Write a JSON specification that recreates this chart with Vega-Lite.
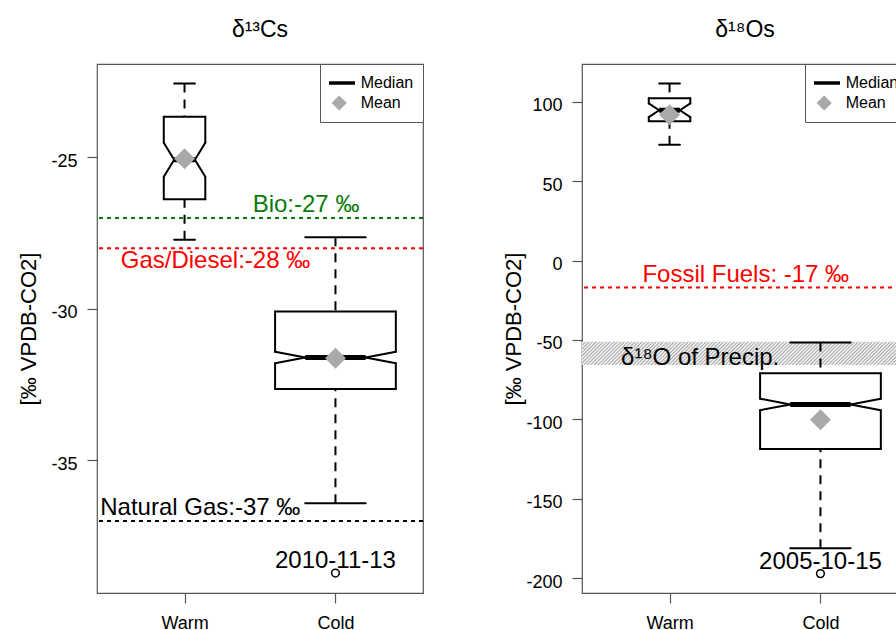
{
  "$schema": "https://vega.github.io/schema/vega-lite/v6.json",
  "background": "white",
  "padding": {"left": 16, "top": 17, "right": 0, "bottom": 0},
  "spacing": 159,
  "bounds": "flush",
  "config": {
    "font": "Liberation Sans",
    "view": {"stroke": "#555555", "strokeWidth": 1.2},
    "axis": {"grid": false, "domain": false, "ticks": true, "tickColor": "#555555", "tickSize": 10, "tickWidth": 1.2, "labelFont": "Liberation Sans", "labelFontSize": 18, "labelColor": "#000000", "titleFont": "Liberation Sans", "titleFontSize": 22, "titleFontWeight": "normal", "titleColor": "#000000"},
    "axisX": {"labelPadding": 25, "labelBaseline": "alphabetic", "labelAngle": 0},
    "axisY": {"labelPadding": 10, "labelBaseline": "alphabetic", "labelOffset": 9, "titleAngle": 270, "titleBaseline": "middle", "titleAlign": "center"},
    "title": {"font": "Liberation Sans", "fontSize": 23, "fontWeight": "normal", "color": "#000000"},
    "legend": {"orient": "top-right", "offset": 0, "padding": 9, "strokeColor": "#555555", "fillColor": "#ffffff", "labelFont": "Liberation Sans", "labelFontSize": 16, "labelColor": "#000000", "clipHeight": 20, "rowPadding": 0, "symbolOffset": -7.3, "labelOffset": 4, "symbolStrokeWidth": 3.3, "symbolOpacity": 1}
  },
  "datasets": {
    "boxes": [
      {"panel": "C13", "group": "Warm", "n": 52, "lo": -27.72, "q1": -26.38, "nlo": -25.64, "med": -25.08, "nhi": -24.52, "q3": -23.66, "hi": -22.56, "mean": -25.05},
      {"panel": "C13", "group": "Cold", "n": 440, "lo": -36.42, "q1": -32.65, "nlo": -31.8, "med": -31.61, "nhi": -31.42, "q3": -30.09, "hi": -27.64, "mean": -31.63},
      {"panel": "O18", "group": "Warm", "n": 52, "lo": 72.8, "q1": 87.6, "nlo": 90.3, "med": 94.6, "nhi": 98.9, "q3": 102.1, "hi": 111.5, "mean": 91.7},
      {"panel": "O18", "group": "Cold", "n": 440, "lo": -181.2, "q1": -118.7, "nlo": -94.2, "med": -90.6, "nhi": -87.0, "q3": -70.9, "hi": -51.6, "mean": -100.3}
    ],
    "outliers": [
      {"panel": "C13", "group": "Cold", "value": -38.72, "date": "2010-11-13"},
      {"panel": "O18", "group": "Cold", "value": -197.1, "date": "2005-10-15"}
    ],
    "refs": [
      {"panel": "C13", "source": "Bio", "value": -27, "label": "Bio:-27 ‰", "labelAt": 1.805, "side": "above"},
      {"panel": "C13", "source": "Gas/Diesel", "value": -28, "label": "Gas/Diesel:-28 ‰", "labelAt": 1.205, "side": "below"},
      {"panel": "C13", "source": "Natural Gas", "value": -37, "label": "Natural Gas:-37 ‰", "labelAt": 1.104, "side": "above"},
      {"panel": "O18", "source": "Fossil Fuels", "value": -17, "label": "Fossil Fuels: -17 ‰", "labelAt": 1.505, "side": "above"}
    ],
    "bands": [
      {"panel": "O18", "hi": -51.2, "lo": -65.8, "label": "δ¹⁸O of Precip.", "labelAt": 1.203}
    ],
    "legendItems": [{"stat": "Median"}, {"stat": "Mean"}]
  },
  "resolve": {
    "scale": {"x": "independent", "y": "independent", "color": "independent", "fill": "independent", "stroke": "independent", "shape": "independent", "size": "independent"}
  },
  "hconcat": [
    {
      "width": 326,
      "height": 529,
      "title": {"text": "δ¹³Cs", "frame": "group", "anchor": "middle", "baseline": "alphabetic", "offset": 4},
      "layer": [
        {
          "data": {"name": "boxes"},
          "transform": [
            {"filter": "datum.panel == 'C13'"},
            {"calculate": "indexof(['Warm', 'Cold'], datum.group) + 1", "as": "pos"},
            {"joinaggregate": [{"op": "max", "field": "n", "as": "nmax"}]},
            {"calculate": "0.4 * sqrt(datum.n / datum.nmax)", "as": "hw"},
            {"calculate": "datum.pos - datum.hw", "as": "xl"},
            {"calculate": "datum.pos + datum.hw", "as": "xr"},
            {"calculate": "datum.pos - datum.hw / 2", "as": "xm1"},
            {"calculate": "datum.pos + datum.hw / 2", "as": "xm2"}
          ],
          "layer": [
            {"mark": {"type": "rule", "color": "#000000", "strokeWidth": 2, "strokeDash": [9, 7]},
             "encoding": {
               "x": {"field": "pos", "type": "quantitative", "scale": {"domain": [0.42, 2.58], "nice": false, "zero": false}, "axis": {"values": [1, 2], "labelExpr": "datum.value == 1 ? 'Warm' : 'Cold'", "title": null}},
               "y": {"field": "hi", "type": "quantitative", "scale": {"domain": [-39.38, -21.92], "nice": false, "zero": false}, "axis": {"values": [-35, -30, -25], "labelExpr": "replace(datum.label, '−', '-')", "title": "[‰ VPDB-CO2]", "titleX": -69, "titleY": 264.5}},
               "y2": {"field": "q3"}}},
            {"mark": {"type": "rule", "color": "#000000", "strokeWidth": 2, "strokeDash": [9, 7]},
             "encoding": {"x": {"field": "pos", "type": "quantitative"}, "y": {"field": "lo", "type": "quantitative"}, "y2": {"field": "q1"}}},
            {"mark": {"type": "rule", "color": "#000000", "strokeWidth": 2, "strokeCap": "round"},
             "encoding": {"x": {"field": "xm1", "type": "quantitative"}, "x2": {"field": "xm2"}, "y": {"field": "hi", "type": "quantitative"}}},
            {"mark": {"type": "rule", "color": "#000000", "strokeWidth": 2, "strokeCap": "round"},
             "encoding": {"x": {"field": "xm1", "type": "quantitative"}, "x2": {"field": "xm2"}, "y": {"field": "lo", "type": "quantitative"}}},
            {"mark": {"type": "rule", "color": "#000000", "strokeWidth": 2, "strokeCap": "round"},
             "encoding": {"x": {"field": "xl", "type": "quantitative"}, "x2": {"field": "xr"}, "y": {"field": "q3", "type": "quantitative"}}},
            {"mark": {"type": "rule", "color": "#000000", "strokeWidth": 2, "strokeCap": "round"},
             "encoding": {"x": {"field": "xl", "type": "quantitative"}, "x2": {"field": "xr"}, "y": {"field": "q1", "type": "quantitative"}}},
            {"mark": {"type": "rule", "color": "#000000", "strokeWidth": 2, "strokeCap": "round"},
             "encoding": {"x": {"field": "xl", "type": "quantitative"}, "y": {"field": "q3", "type": "quantitative"}, "y2": {"field": "nhi"}}},
            {"mark": {"type": "rule", "color": "#000000", "strokeWidth": 2, "strokeCap": "round"},
             "encoding": {"x": {"field": "xl", "type": "quantitative"}, "y": {"field": "q1", "type": "quantitative"}, "y2": {"field": "nlo"}}},
            {"mark": {"type": "rule", "color": "#000000", "strokeWidth": 2, "strokeCap": "round"},
             "encoding": {"x": {"field": "xr", "type": "quantitative"}, "y": {"field": "q3", "type": "quantitative"}, "y2": {"field": "nhi"}}},
            {"mark": {"type": "rule", "color": "#000000", "strokeWidth": 2, "strokeCap": "round"},
             "encoding": {"x": {"field": "xr", "type": "quantitative"}, "y": {"field": "q1", "type": "quantitative"}, "y2": {"field": "nlo"}}},
            {"mark": {"type": "rule", "color": "#000000", "strokeWidth": 2, "strokeCap": "round"},
             "encoding": {"x": {"field": "xl", "type": "quantitative"}, "x2": {"field": "xm1"}, "y": {"field": "nhi", "type": "quantitative"}, "y2": {"field": "med"}}},
            {"mark": {"type": "rule", "color": "#000000", "strokeWidth": 2, "strokeCap": "round"},
             "encoding": {"x": {"field": "xl", "type": "quantitative"}, "x2": {"field": "xm1"}, "y": {"field": "nlo", "type": "quantitative"}, "y2": {"field": "med"}}},
            {"mark": {"type": "rule", "color": "#000000", "strokeWidth": 2, "strokeCap": "round"},
             "encoding": {"x": {"field": "xr", "type": "quantitative"}, "x2": {"field": "xm2"}, "y": {"field": "nhi", "type": "quantitative"}, "y2": {"field": "med"}}},
            {"mark": {"type": "rule", "color": "#000000", "strokeWidth": 2, "strokeCap": "round"},
             "encoding": {"x": {"field": "xr", "type": "quantitative"}, "x2": {"field": "xm2"}, "y": {"field": "nlo", "type": "quantitative"}, "y2": {"field": "med"}}},
            {"mark": {"type": "rule", "color": "#000000", "strokeWidth": 5},
             "encoding": {"x": {"field": "xm1", "type": "quantitative"}, "x2": {"field": "xm2"}, "y": {"field": "med", "type": "quantitative"}}},
            {"mark": {"type": "point", "shape": "diamond", "filled": true, "fill": "#a9a9a9", "strokeWidth": 0, "size": 440, "opacity": 1},
             "encoding": {"x": {"field": "pos", "type": "quantitative"}, "y": {"field": "mean", "type": "quantitative"}}}
          ]
        },
        {
          "data": {"name": "outliers"},
          "transform": [
            {"filter": "datum.panel == 'C13'"},
            {"calculate": "indexof(['Warm', 'Cold'], datum.group) + 1", "as": "pos"}
          ],
          "layer": [
            {"mark": {"type": "point", "shape": "circle", "filled": false, "stroke": "#000000", "strokeWidth": 1.5, "size": 60, "opacity": 1},
             "encoding": {"x": {"field": "pos", "type": "quantitative"}, "y": {"field": "value", "type": "quantitative"}}},
            {"mark": {"type": "text", "fontSize": 24, "baseline": "alphabetic", "align": "center", "dy": -5, "color": "#000000"},
             "encoding": {"x": {"field": "pos", "type": "quantitative"}, "y": {"field": "value", "type": "quantitative"}, "text": {"field": "date"}}}
          ]
        },
        {
          "data": {"name": "refs"},
          "transform": [{"filter": "datum.panel == 'C13'"}],
          "layer": [
            {"mark": {"type": "rule", "strokeWidth": 2, "strokeDash": [4, 4]},
             "encoding": {"y": {"field": "value", "type": "quantitative"},
               "color": {"field": "source", "type": "nominal", "scale": {"domain": ["Bio", "Gas/Diesel", "Natural Gas", "Fossil Fuels"], "range": ["#0a7a0a", "#ff0000", "#000000", "#ff0000"]}, "legend": null}}},
            {"transform": [{"filter": "datum.side == 'above'"}],
             "mark": {"type": "text", "fontSize": 24, "baseline": "alphabetic", "align": "center", "dy": -5.5},
             "encoding": {"x": {"field": "labelAt", "type": "quantitative"}, "y": {"field": "value", "type": "quantitative"}, "text": {"field": "label"},
               "color": {"field": "source", "type": "nominal", "legend": null}}},
            {"transform": [{"filter": "datum.side == 'below'"}],
             "mark": {"type": "text", "fontSize": 24, "baseline": "alphabetic", "align": "center", "dy": 20},
             "encoding": {"x": {"field": "labelAt", "type": "quantitative"}, "y": {"field": "value", "type": "quantitative"}, "text": {"field": "label"},
               "color": {"field": "source", "type": "nominal", "legend": null}}}
          ]
        },
        {
          "data": {"name": "legendItems"},
          "transform": [{"filter": "false"}],
          "mark": {"type": "point", "filled": true},
          "encoding": {
            "shape": {"field": "stat", "type": "nominal", "scale": {"domain": ["Median", "Mean"], "range": ["stroke", "diamond"]}, "legend": {"title": null}},
            "fill": {"field": "stat", "type": "nominal", "scale": {"domain": ["Median", "Mean"], "range": ["#000000", "#a9a9a9"]}, "legend": {"title": null}},
            "stroke": {"field": "stat", "type": "nominal", "scale": {"domain": ["Median", "Mean"], "range": ["#000000", "#a9a9a9"]}, "legend": {"title": null}},
            "size": {"field": "stat", "type": "nominal", "scale": {"domain": ["Median", "Mean"], "range": [1000, 110]}, "legend": {"title": null}}
          }
        }
      ]
    },
    {
      "width": 326,
      "height": 529,
      "title": {"text": "δ¹⁸Os", "frame": "group", "anchor": "middle", "baseline": "alphabetic", "offset": 4},
      "layer": [
        {
          "data": {"name": "bands"},
          "transform": [{"filter": "datum.panel == 'O18'"}],
          "mark": {"type": "rect", "fill": {"gradient": "linear", "x1": 0, "y1": 0, "x2": 1.08, "y2": 0.077, "stops": [
            {"offset": 0, "color": "#aaa"}, {"offset": 0.005, "color": "#fff"}, {"offset": 0.01, "color": "#aaa"}, {"offset": 0.015, "color": "#fff"}, {"offset": 0.02, "color": "#aaa"}, {"offset": 0.025, "color": "#fff"}, {"offset": 0.03, "color": "#aaa"}, {"offset": 0.035, "color": "#fff"}, {"offset": 0.04, "color": "#aaa"}, {"offset": 0.045, "color": "#fff"},
            {"offset": 0.05, "color": "#aaa"}, {"offset": 0.055, "color": "#fff"}, {"offset": 0.06, "color": "#aaa"}, {"offset": 0.065, "color": "#fff"}, {"offset": 0.07, "color": "#aaa"}, {"offset": 0.075, "color": "#fff"}, {"offset": 0.08, "color": "#aaa"}, {"offset": 0.085, "color": "#fff"}, {"offset": 0.09, "color": "#aaa"}, {"offset": 0.095, "color": "#fff"},
            {"offset": 0.1, "color": "#aaa"}, {"offset": 0.105, "color": "#fff"}, {"offset": 0.11, "color": "#aaa"}, {"offset": 0.115, "color": "#fff"}, {"offset": 0.12, "color": "#aaa"}, {"offset": 0.125, "color": "#fff"}, {"offset": 0.13, "color": "#aaa"}, {"offset": 0.135, "color": "#fff"}, {"offset": 0.14, "color": "#aaa"}, {"offset": 0.145, "color": "#fff"},
            {"offset": 0.15, "color": "#aaa"}, {"offset": 0.155, "color": "#fff"}, {"offset": 0.16, "color": "#aaa"}, {"offset": 0.165, "color": "#fff"}, {"offset": 0.17, "color": "#aaa"}, {"offset": 0.175, "color": "#fff"}, {"offset": 0.18, "color": "#aaa"}, {"offset": 0.185, "color": "#fff"}, {"offset": 0.19, "color": "#aaa"}, {"offset": 0.195, "color": "#fff"},
            {"offset": 0.2, "color": "#aaa"}, {"offset": 0.205, "color": "#fff"}, {"offset": 0.21, "color": "#aaa"}, {"offset": 0.215, "color": "#fff"}, {"offset": 0.22, "color": "#aaa"}, {"offset": 0.225, "color": "#fff"}, {"offset": 0.23, "color": "#aaa"}, {"offset": 0.235, "color": "#fff"}, {"offset": 0.24, "color": "#aaa"}, {"offset": 0.245, "color": "#fff"},
            {"offset": 0.25, "color": "#aaa"}, {"offset": 0.255, "color": "#fff"}, {"offset": 0.26, "color": "#aaa"}, {"offset": 0.265, "color": "#fff"}, {"offset": 0.27, "color": "#aaa"}, {"offset": 0.275, "color": "#fff"}, {"offset": 0.28, "color": "#aaa"}, {"offset": 0.285, "color": "#fff"}, {"offset": 0.29, "color": "#aaa"}, {"offset": 0.295, "color": "#fff"},
            {"offset": 0.3, "color": "#aaa"}, {"offset": 0.305, "color": "#fff"}, {"offset": 0.31, "color": "#aaa"}, {"offset": 0.315, "color": "#fff"}, {"offset": 0.32, "color": "#aaa"}, {"offset": 0.325, "color": "#fff"}, {"offset": 0.33, "color": "#aaa"}, {"offset": 0.335, "color": "#fff"}, {"offset": 0.34, "color": "#aaa"}, {"offset": 0.345, "color": "#fff"},
            {"offset": 0.35, "color": "#aaa"}, {"offset": 0.355, "color": "#fff"}, {"offset": 0.36, "color": "#aaa"}, {"offset": 0.365, "color": "#fff"}, {"offset": 0.37, "color": "#aaa"}, {"offset": 0.375, "color": "#fff"}, {"offset": 0.38, "color": "#aaa"}, {"offset": 0.385, "color": "#fff"}, {"offset": 0.39, "color": "#aaa"}, {"offset": 0.395, "color": "#fff"},
            {"offset": 0.4, "color": "#aaa"}, {"offset": 0.405, "color": "#fff"}, {"offset": 0.41, "color": "#aaa"}, {"offset": 0.415, "color": "#fff"}, {"offset": 0.42, "color": "#aaa"}, {"offset": 0.425, "color": "#fff"}, {"offset": 0.43, "color": "#aaa"}, {"offset": 0.435, "color": "#fff"}, {"offset": 0.44, "color": "#aaa"}, {"offset": 0.445, "color": "#fff"},
            {"offset": 0.45, "color": "#aaa"}, {"offset": 0.455, "color": "#fff"}, {"offset": 0.46, "color": "#aaa"}, {"offset": 0.465, "color": "#fff"}, {"offset": 0.47, "color": "#aaa"}, {"offset": 0.475, "color": "#fff"}, {"offset": 0.48, "color": "#aaa"}, {"offset": 0.485, "color": "#fff"}, {"offset": 0.49, "color": "#aaa"}, {"offset": 0.495, "color": "#fff"},
            {"offset": 0.5, "color": "#aaa"}, {"offset": 0.505, "color": "#fff"}, {"offset": 0.51, "color": "#aaa"}, {"offset": 0.515, "color": "#fff"}, {"offset": 0.52, "color": "#aaa"}, {"offset": 0.525, "color": "#fff"}, {"offset": 0.53, "color": "#aaa"}, {"offset": 0.535, "color": "#fff"}, {"offset": 0.54, "color": "#aaa"}, {"offset": 0.545, "color": "#fff"},
            {"offset": 0.55, "color": "#aaa"}, {"offset": 0.555, "color": "#fff"}, {"offset": 0.56, "color": "#aaa"}, {"offset": 0.565, "color": "#fff"}, {"offset": 0.57, "color": "#aaa"}, {"offset": 0.575, "color": "#fff"}, {"offset": 0.58, "color": "#aaa"}, {"offset": 0.585, "color": "#fff"}, {"offset": 0.59, "color": "#aaa"}, {"offset": 0.595, "color": "#fff"},
            {"offset": 0.6, "color": "#aaa"}, {"offset": 0.605, "color": "#fff"}, {"offset": 0.61, "color": "#aaa"}, {"offset": 0.615, "color": "#fff"}, {"offset": 0.62, "color": "#aaa"}, {"offset": 0.625, "color": "#fff"}, {"offset": 0.63, "color": "#aaa"}, {"offset": 0.635, "color": "#fff"}, {"offset": 0.64, "color": "#aaa"}, {"offset": 0.645, "color": "#fff"},
            {"offset": 0.65, "color": "#aaa"}, {"offset": 0.655, "color": "#fff"}, {"offset": 0.66, "color": "#aaa"}, {"offset": 0.665, "color": "#fff"}, {"offset": 0.67, "color": "#aaa"}, {"offset": 0.675, "color": "#fff"}, {"offset": 0.68, "color": "#aaa"}, {"offset": 0.685, "color": "#fff"}, {"offset": 0.69, "color": "#aaa"}, {"offset": 0.695, "color": "#fff"},
            {"offset": 0.7, "color": "#aaa"}, {"offset": 0.705, "color": "#fff"}, {"offset": 0.71, "color": "#aaa"}, {"offset": 0.715, "color": "#fff"}, {"offset": 0.72, "color": "#aaa"}, {"offset": 0.725, "color": "#fff"}, {"offset": 0.73, "color": "#aaa"}, {"offset": 0.735, "color": "#fff"}, {"offset": 0.74, "color": "#aaa"}, {"offset": 0.745, "color": "#fff"},
            {"offset": 0.75, "color": "#aaa"}, {"offset": 0.755, "color": "#fff"}, {"offset": 0.76, "color": "#aaa"}, {"offset": 0.765, "color": "#fff"}, {"offset": 0.77, "color": "#aaa"}, {"offset": 0.775, "color": "#fff"}, {"offset": 0.78, "color": "#aaa"}, {"offset": 0.785, "color": "#fff"}, {"offset": 0.79, "color": "#aaa"}, {"offset": 0.795, "color": "#fff"},
            {"offset": 0.8, "color": "#aaa"}, {"offset": 0.805, "color": "#fff"}, {"offset": 0.81, "color": "#aaa"}, {"offset": 0.815, "color": "#fff"}, {"offset": 0.82, "color": "#aaa"}, {"offset": 0.825, "color": "#fff"}, {"offset": 0.83, "color": "#aaa"}, {"offset": 0.835, "color": "#fff"}, {"offset": 0.84, "color": "#aaa"}, {"offset": 0.845, "color": "#fff"},
            {"offset": 0.85, "color": "#aaa"}, {"offset": 0.855, "color": "#fff"}, {"offset": 0.86, "color": "#aaa"}, {"offset": 0.865, "color": "#fff"}, {"offset": 0.87, "color": "#aaa"}, {"offset": 0.875, "color": "#fff"}, {"offset": 0.88, "color": "#aaa"}, {"offset": 0.885, "color": "#fff"}, {"offset": 0.89, "color": "#aaa"}, {"offset": 0.895, "color": "#fff"},
            {"offset": 0.9, "color": "#aaa"}, {"offset": 0.905, "color": "#fff"}, {"offset": 0.91, "color": "#aaa"}, {"offset": 0.915, "color": "#fff"}, {"offset": 0.92, "color": "#aaa"}, {"offset": 0.925, "color": "#fff"}, {"offset": 0.93, "color": "#aaa"}, {"offset": 0.935, "color": "#fff"}, {"offset": 0.94, "color": "#aaa"}, {"offset": 0.945, "color": "#fff"},
            {"offset": 0.95, "color": "#aaa"}, {"offset": 0.955, "color": "#fff"}, {"offset": 0.96, "color": "#aaa"}, {"offset": 0.965, "color": "#fff"}, {"offset": 0.97, "color": "#aaa"}, {"offset": 0.975, "color": "#fff"}, {"offset": 0.98, "color": "#aaa"}, {"offset": 0.985, "color": "#fff"}, {"offset": 0.99, "color": "#aaa"}, {"offset": 0.995, "color": "#fff"},
            {"offset": 1, "color": "#aaa"}
          ]}},
          "encoding": {
            "y": {"field": "hi", "type": "quantitative", "scale": {"domain": [-209.3, 123.7], "nice": false, "zero": false}, "axis": {"values": [-200, -150, -100, -50, 0, 50, 100], "labelExpr": "replace(datum.label, '−', '-')", "title": "[‰ VPDB-CO2]", "titleX": -69, "titleY": 264.5}},
            "y2": {"field": "lo"}
          }
        },
        {
          "data": {"name": "boxes"},
          "transform": [
            {"filter": "datum.panel == 'O18'"},
            {"calculate": "indexof(['Warm', 'Cold'], datum.group) + 1", "as": "pos"},
            {"joinaggregate": [{"op": "max", "field": "n", "as": "nmax"}]},
            {"calculate": "0.4 * sqrt(datum.n / datum.nmax)", "as": "hw"},
            {"calculate": "datum.pos - datum.hw", "as": "xl"},
            {"calculate": "datum.pos + datum.hw", "as": "xr"},
            {"calculate": "datum.pos - datum.hw / 2", "as": "xm1"},
            {"calculate": "datum.pos + datum.hw / 2", "as": "xm2"}
          ],
          "layer": [
            {"mark": {"type": "rule", "color": "#000000", "strokeWidth": 2, "strokeDash": [9, 7]},
             "encoding": {
               "x": {"field": "pos", "type": "quantitative", "scale": {"domain": [0.42, 2.58], "nice": false, "zero": false}, "axis": {"values": [1, 2], "labelExpr": "datum.value == 1 ? 'Warm' : 'Cold'", "title": null}},
               "y": {"field": "hi", "type": "quantitative"},
               "y2": {"field": "q3"}}},
            {"mark": {"type": "rule", "color": "#000000", "strokeWidth": 2, "strokeDash": [9, 7]},
             "encoding": {"x": {"field": "pos", "type": "quantitative"}, "y": {"field": "lo", "type": "quantitative"}, "y2": {"field": "q1"}}},
            {"mark": {"type": "rule", "color": "#000000", "strokeWidth": 2, "strokeCap": "round"},
             "encoding": {"x": {"field": "xm1", "type": "quantitative"}, "x2": {"field": "xm2"}, "y": {"field": "hi", "type": "quantitative"}}},
            {"mark": {"type": "rule", "color": "#000000", "strokeWidth": 2, "strokeCap": "round"},
             "encoding": {"x": {"field": "xm1", "type": "quantitative"}, "x2": {"field": "xm2"}, "y": {"field": "lo", "type": "quantitative"}}},
            {"mark": {"type": "rule", "color": "#000000", "strokeWidth": 2, "strokeCap": "round"},
             "encoding": {"x": {"field": "xl", "type": "quantitative"}, "x2": {"field": "xr"}, "y": {"field": "q3", "type": "quantitative"}}},
            {"mark": {"type": "rule", "color": "#000000", "strokeWidth": 2, "strokeCap": "round"},
             "encoding": {"x": {"field": "xl", "type": "quantitative"}, "x2": {"field": "xr"}, "y": {"field": "q1", "type": "quantitative"}}},
            {"mark": {"type": "rule", "color": "#000000", "strokeWidth": 2, "strokeCap": "round"},
             "encoding": {"x": {"field": "xl", "type": "quantitative"}, "y": {"field": "q3", "type": "quantitative"}, "y2": {"field": "nhi"}}},
            {"mark": {"type": "rule", "color": "#000000", "strokeWidth": 2, "strokeCap": "round"},
             "encoding": {"x": {"field": "xl", "type": "quantitative"}, "y": {"field": "q1", "type": "quantitative"}, "y2": {"field": "nlo"}}},
            {"mark": {"type": "rule", "color": "#000000", "strokeWidth": 2, "strokeCap": "round"},
             "encoding": {"x": {"field": "xr", "type": "quantitative"}, "y": {"field": "q3", "type": "quantitative"}, "y2": {"field": "nhi"}}},
            {"mark": {"type": "rule", "color": "#000000", "strokeWidth": 2, "strokeCap": "round"},
             "encoding": {"x": {"field": "xr", "type": "quantitative"}, "y": {"field": "q1", "type": "quantitative"}, "y2": {"field": "nlo"}}},
            {"mark": {"type": "rule", "color": "#000000", "strokeWidth": 2, "strokeCap": "round"},
             "encoding": {"x": {"field": "xl", "type": "quantitative"}, "x2": {"field": "xm1"}, "y": {"field": "nhi", "type": "quantitative"}, "y2": {"field": "med"}}},
            {"mark": {"type": "rule", "color": "#000000", "strokeWidth": 2, "strokeCap": "round"},
             "encoding": {"x": {"field": "xl", "type": "quantitative"}, "x2": {"field": "xm1"}, "y": {"field": "nlo", "type": "quantitative"}, "y2": {"field": "med"}}},
            {"mark": {"type": "rule", "color": "#000000", "strokeWidth": 2, "strokeCap": "round"},
             "encoding": {"x": {"field": "xr", "type": "quantitative"}, "x2": {"field": "xm2"}, "y": {"field": "nhi", "type": "quantitative"}, "y2": {"field": "med"}}},
            {"mark": {"type": "rule", "color": "#000000", "strokeWidth": 2, "strokeCap": "round"},
             "encoding": {"x": {"field": "xr", "type": "quantitative"}, "x2": {"field": "xm2"}, "y": {"field": "nlo", "type": "quantitative"}, "y2": {"field": "med"}}},
            {"mark": {"type": "rule", "color": "#000000", "strokeWidth": 5},
             "encoding": {"x": {"field": "xm1", "type": "quantitative"}, "x2": {"field": "xm2"}, "y": {"field": "med", "type": "quantitative"}}},
            {"mark": {"type": "point", "shape": "diamond", "filled": true, "fill": "#a9a9a9", "strokeWidth": 0, "size": 440, "opacity": 1},
             "encoding": {"x": {"field": "pos", "type": "quantitative"}, "y": {"field": "mean", "type": "quantitative"}}}
          ]
        },
        {
          "data": {"name": "outliers"},
          "transform": [
            {"filter": "datum.panel == 'O18'"},
            {"calculate": "indexof(['Warm', 'Cold'], datum.group) + 1", "as": "pos"}
          ],
          "layer": [
            {"mark": {"type": "point", "shape": "circle", "filled": false, "stroke": "#000000", "strokeWidth": 1.5, "size": 60, "opacity": 1},
             "encoding": {"x": {"field": "pos", "type": "quantitative"}, "y": {"field": "value", "type": "quantitative"}}},
            {"mark": {"type": "text", "fontSize": 24, "baseline": "alphabetic", "align": "center", "dy": -5, "color": "#000000"},
             "encoding": {"x": {"field": "pos", "type": "quantitative"}, "y": {"field": "value", "type": "quantitative"}, "text": {"field": "date"}}}
          ]
        },
        {
          "data": {"name": "bands"},
          "transform": [{"filter": "datum.panel == 'O18'"}],
          "mark": {"type": "text", "fontSize": 24, "baseline": "alphabetic", "align": "center", "color": "#000000"},
          "encoding": {"x": {"field": "labelAt", "type": "quantitative"}, "y": {"field": "lo", "type": "quantitative"}, "text": {"field": "label"}}
        },
        {
          "data": {"name": "refs"},
          "transform": [{"filter": "datum.panel == 'O18'"}],
          "layer": [
            {"mark": {"type": "rule", "strokeWidth": 2, "strokeDash": [4, 4]},
             "encoding": {"y": {"field": "value", "type": "quantitative"},
               "color": {"field": "source", "type": "nominal", "scale": {"domain": ["Bio", "Gas/Diesel", "Natural Gas", "Fossil Fuels"], "range": ["#0a7a0a", "#ff0000", "#000000", "#ff0000"]}, "legend": null}}},
            {"transform": [{"filter": "datum.side == 'above'"}],
             "mark": {"type": "text", "fontSize": 24, "baseline": "alphabetic", "align": "center", "dy": -5.5},
             "encoding": {"x": {"field": "labelAt", "type": "quantitative"}, "y": {"field": "value", "type": "quantitative"}, "text": {"field": "label"},
               "color": {"field": "source", "type": "nominal", "legend": null}}}
          ]
        },
        {
          "data": {"name": "legendItems"},
          "transform": [{"filter": "false"}],
          "mark": {"type": "point", "filled": true},
          "encoding": {
            "shape": {"field": "stat", "type": "nominal", "scale": {"domain": ["Median", "Mean"], "range": ["stroke", "diamond"]}, "legend": {"title": null}},
            "fill": {"field": "stat", "type": "nominal", "scale": {"domain": ["Median", "Mean"], "range": ["#000000", "#a9a9a9"]}, "legend": {"title": null}},
            "stroke": {"field": "stat", "type": "nominal", "scale": {"domain": ["Median", "Mean"], "range": ["#000000", "#a9a9a9"]}, "legend": {"title": null}},
            "size": {"field": "stat", "type": "nominal", "scale": {"domain": ["Median", "Mean"], "range": [1000, 110]}, "legend": {"title": null}}
          }
        }
      ]
    }
  ]
}
